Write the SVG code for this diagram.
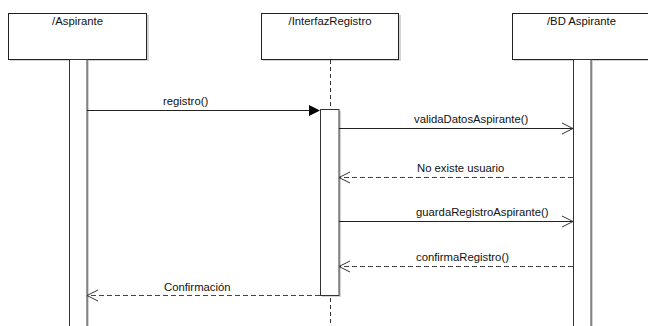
<svg xmlns="http://www.w3.org/2000/svg" width="648" height="326" viewBox="0 0 648 326">
<style>
  .box { fill: #fff; stroke: #222; stroke-width: 1; }
  .shadow { fill: #d4d4d4; }
  .act { fill: #fff; stroke: #333; stroke-width: 1; }
  .label { font-family: "Liberation Sans", Arial, sans-serif; font-size: 11.3px; fill: #111; }
  .msg { stroke: #222; stroke-width: 1; fill: none; }
  .ret { stroke: #444; stroke-width: 1; fill: none; stroke-dasharray: 5 3; }
  .life { stroke: #333; stroke-width: 1; fill: none; stroke-dasharray: 4 3; }
  .open { stroke: #333; stroke-width: 1; fill: none; }
</style>
<rect width="648" height="326" fill="#fff"/>
<g id="aspirante">
  <rect class="shadow" x="10" y="15" width="139" height="46"/>
  <rect class="box" x="8.5" y="13.5" width="138" height="46"/>
  <text class="label" x="77.5" y="25" text-anchor="middle">/Aspirante</text>
  <rect class="shadow" x="71" y="61" width="18" height="280"/>
  <rect class="act" x="69.5" y="59.5" width="17.5" height="280"/>
</g>
<g id="interfazRegistro">
  <rect class="shadow" x="263" y="15" width="138" height="46"/>
  <rect class="box" x="261.5" y="13.5" width="137" height="46"/>
  <text class="label" x="330" y="25" text-anchor="middle">/InterfazRegistro</text>
  <line class="life" x1="330.5" y1="60" x2="330.5" y2="326"/>
  <rect class="shadow" x="322" y="111" width="19" height="186"/>
  <rect class="act" x="320.5" y="109.5" width="18.5" height="186"/>
</g>
<g id="bdAspirante">
  <rect class="shadow" x="514" y="15" width="140" height="46"/>
  <rect class="box" x="512.5" y="13.5" width="140" height="46"/>
  <text class="label" x="581.5" y="25" text-anchor="middle">/BD Aspirante</text>
  <rect class="shadow" x="575" y="61" width="18" height="280"/>
  <rect class="act" x="573.5" y="59.5" width="17.5" height="280"/>
</g>
<g id="connectors">
  <line class="msg" x1="87" y1="110.5" x2="311" y2="110.5"/>
  <polygon points="309,105 320,110.5 309,116" fill="#000"/>
  <text class="label" x="163" y="105">registro()</text>

  <line class="msg" x1="339" y1="128.5" x2="573" y2="128.5"/>
  <polyline class="open" points="562,123 573,128.5 562,134"/>
  <text class="label" x="414" y="122.5">validaDatosAspirante()</text>

  <line class="ret" x1="573" y1="177.5" x2="339" y2="177.5"/>
  <polyline class="open" points="350,172 339,177.5 350,183"/>
  <text class="label" x="417" y="171.5">No existe usuario</text>

  <line class="msg" x1="339" y1="221.5" x2="573" y2="221.5"/>
  <polyline class="open" points="562,216 573,221.5 562,227"/>
  <text class="label" x="416" y="216">guardaRegistroAspirante()</text>

  <line class="ret" x1="573" y1="266.5" x2="339" y2="266.5"/>
  <polyline class="open" points="350,261 339,266.5 350,272"/>
  <text class="label" x="416" y="261">confirmaRegistro()</text>

  <line class="ret" x1="320" y1="295.5" x2="87" y2="295.5"/>
  <polyline class="open" points="98,290 87,295.5 98,301"/>
  <text class="label" x="164" y="290.5">Confirmación</text>
</g>
</svg>
